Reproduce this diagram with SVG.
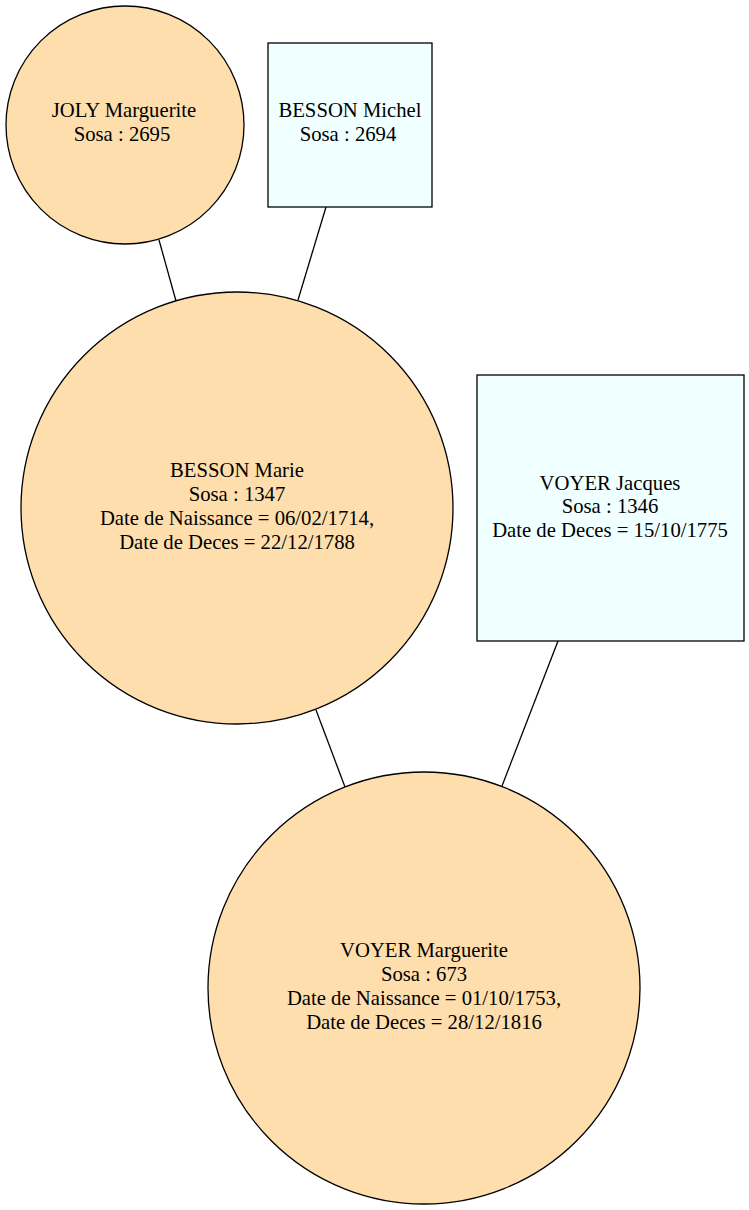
<svg xmlns="http://www.w3.org/2000/svg" width="749" height="1210" viewBox="0 0 749 1210">
<style>
.f{fill:#ffdead;stroke:#000;stroke-width:1.3}
.m{fill:#f0ffff;stroke:#000;stroke-width:1.3}
text{font-family:"Liberation Serif","Times New Roman",serif;font-size:20.7px;text-anchor:middle;fill:#000}
.e{stroke:#000;stroke-width:1.3;fill:none}
</style>
<rect width="749" height="1210" fill="#fff"/>
<g id="edges">
<line class="e" x1="159" y1="240" x2="176" y2="301"/>
<line class="e" x1="326" y1="207" x2="298" y2="300"/>
<line class="e" x1="316" y1="710" x2="345" y2="787"/>
<line class="e" x1="558" y1="641" x2="502" y2="786"/>
</g>
<g id="joly">
<circle class="f" cx="125" cy="125" r="119"/>
<text x="124" y="117">JOLY Marguerite</text>
<text x="122" y="141">Sosa : 2695</text>
</g>
<g id="michel">
<rect class="m" x="268" y="43" width="164" height="164"/>
<text x="350" y="117">BESSON Michel</text>
<text x="348" y="141">Sosa : 2694</text>
</g>
<g id="marie">
<circle class="f" cx="237" cy="508" r="216"/>
<text x="237" y="477">BESSON Marie</text>
<text x="237" y="501">Sosa : 1347</text>
<text x="237" y="525">Date de Naissance = 06/02/1714,</text>
<text x="237" y="549">Date de Deces = 22/12/1788</text>
</g>
<g id="jacques">
<rect class="m" x="477" y="375" width="267" height="266"/>
<text x="610" y="490">VOYER Jacques</text>
<text x="610" y="513">Sosa : 1346</text>
<text x="610" y="537">Date de Deces = 15/10/1775</text>
</g>
<g id="voyer">
<circle class="f" cx="424" cy="988" r="216"/>
<text x="424" y="957">VOYER Marguerite</text>
<text x="424" y="981">Sosa : 673</text>
<text x="424" y="1005">Date de Naissance = 01/10/1753,</text>
<text x="424" y="1029">Date de Deces = 28/12/1816</text>
</g>
</svg>
